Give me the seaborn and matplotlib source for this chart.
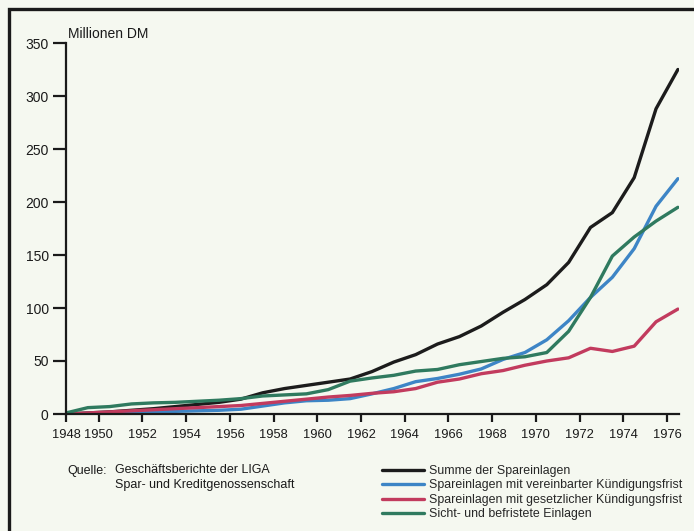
import matplotlib
matplotlib.use("Agg")
import matplotlib.pyplot as plt
from matplotlib.patches import Rectangle
import seaborn as sns
import pandas as pd

# data (Millionen DM), one value per year
years = list(range(1948, 1977))
summe = [0, 1, 2, 3.5, 5, 7, 9, 11, 14, 20, 24, 27, 30, 33, 40, 49, 56, 66, 73,
         83, 96, 108, 122, 143, 176, 190, 223, 288, 325]
vereinbart = [0, 0.5, 1, 1.5, 2, 2.5, 3, 3.5, 4.5, 7.5, 10.5, 12.5, 13, 14.5, 19,
              24, 30.5, 33.5, 37.5, 42.5, 51.5, 58, 70, 88, 110, 129, 156, 196, 222]
gesetzlich = [0, 1, 2, 3, 4, 5, 6, 7, 8, 10, 12, 14, 16, 17.5, 19.5, 21, 24, 30,
              33, 38, 41, 46, 50, 53, 62, 59, 64, 87, 99]
sicht = [1, 6, 7, 9.5, 10.5, 11, 12, 13, 14.5, 17, 18, 19, 23, 31, 34, 36.5, 40.5,
         42, 46.5, 49.5, 52.5, 54, 58, 78, 110, 149, 167, 182, 195]

series_names = ["Summe der Spareinlagen",
                "Spareinlagen mit vereinbarter Kündigungsfrist",
                "Spareinlagen mit gesetzlicher Kündigungsfrist",
                "Sicht- und befristete Einlagen"]
colors = ["#1c1c1c", "#3d85c6", "#c23b5e", "#2f7a5f"]

xticks = [1948.5] + list(range(1950, 1977, 2))
xlabels = ["1948"] + [str(y) for y in range(1950, 1977, 2)]
yticks = list(range(0, 351, 50))

frames = []
for name, vals in zip(series_names, [summe, vereinbart, gesetzlich, sicht]):
    frames.append(pd.DataFrame({"Jahr": [y + 0.5 for y in years],
                                "Wert": vals, "Reihe": name}))
df = pd.concat(frames, ignore_index=True)

sns.set_style("ticks")
plt.rcParams["font.family"] = ["Liberation Sans", "DejaVu Sans"]
bg = "#f5f8f0"

fig = plt.figure(figsize=(6.94, 5.31), dpi=100, facecolor=bg)
ax = fig.add_axes([66 / 694, 1 - 414 / 531, (679 - 66) / 694, (414 - 43) / 531])
ax.set_facecolor(bg)

sns.lineplot(data=df, x="Jahr", y="Wert", hue="Reihe", hue_order=series_names,
             palette=colors, linewidth=2.4, ax=ax)

ax.set_xlim(1948.5, 1976.55)
ax.set_ylim(0, 350)
ax.set_xticks(xticks)
ax.set_xticklabels(xlabels)
ax.set_yticks(yticks)
ax.set_xlabel("")
ax.set_ylabel("")
for s in ["top", "right"]:
    ax.spines[s].set_visible(False)
for s in ["left", "bottom"]:
    ax.spines[s].set_linewidth(1.6)
    ax.spines[s].set_color("#1a1a1a")
ax.tick_params(axis="y", length=9.5, width=1.6, pad=3, labelsize=10, colors="#1a1a1a")
ax.tick_params(axis="x", length=6, width=1.6, pad=5, labelsize=9.3, colors="#1a1a1a")

ax.text(0.003, 1.005, "Millionen DM", transform=ax.transAxes, fontsize=10,
        ha="left", va="bottom", color="#1a1a1a")

sns.move_legend(ax, loc="upper left", bbox_to_anchor=(382 / 694, 1 - 465 / 531),
                bbox_transform=fig.transFigure, title=None, frameon=False,
                fontsize=8.9, handlelength=3.4, handletextpad=0.4,
                labelspacing=0.2, borderpad=0, borderaxespad=0)
for line in ax.get_legend().get_lines():
    line.set_linewidth(2.4)

fig.text(67 / 694, 1 - 471 / 531, "Quelle:", fontsize=9, va="center",
         color="#1a1a1a")
fig.text(115 / 694, 1 - 464 / 531,
         "Geschäftsberichte der LIGA\nSpar- und Kreditgenossenschaft",
         fontsize=9, va="top", linespacing=1.3, color="#1a1a1a")

# scanned page frame
fig.patches.append(Rectangle((9 / 694, -0.05), 1.1, 1 - 9 / 531 + 0.05,
                             transform=fig.transFigure, fill=False,
                             edgecolor="#1a1a1a", linewidth=2.4))

fig.savefig("out.png", dpi=100, facecolor=bg)
